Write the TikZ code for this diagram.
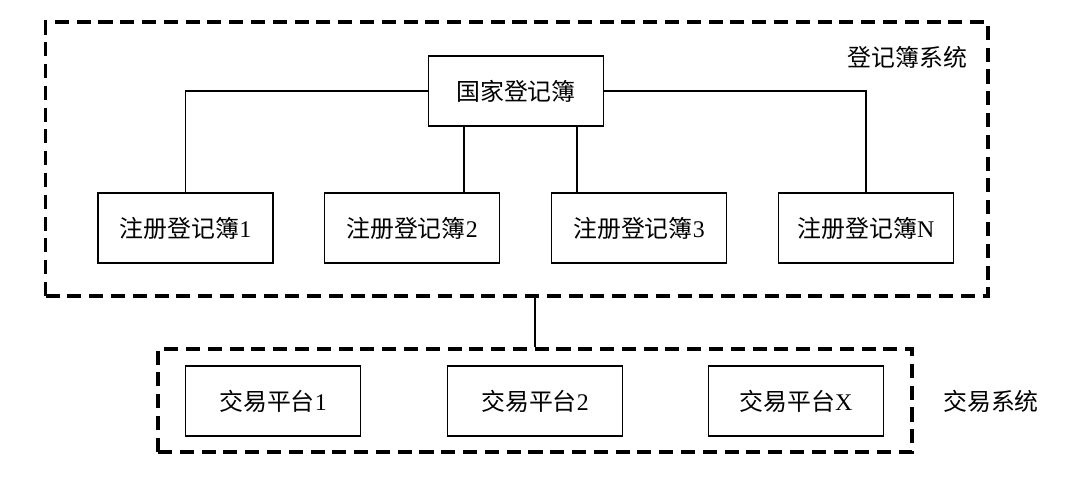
\documentclass[tikz,border=0pt]{standalone}
\usepackage{fontspec}
\setmainfont{Liberation Serif}
\newfontfamily\cjk{Noto Sans CJK SC}

\begin{document}
\begin{tikzpicture}
		[
		x=1cm, y=1cm, font=\fontsize{17}{20}\selectfont,
		%Voreinstellung für Kästen und Rahmen
		kasten/.style={draw, line width=1.2pt, minimum width=4.375cm, minimum height=1.75cm, inner sep=0pt},
		rahmen/.style={draw, line width=2.4pt, dash pattern=on 10pt off 5.5pt, inner sep=0pt}
		]
		
		%Bildgröße
		\useasboundingbox (0,0) rectangle (27,12);
		
		%Rahmen Registersystem
		\node[rahmen, minimum width=23.56cm, minimum height=6.85cm] (regsys) at (12.92,8.025) {};
		\node[anchor=east] (regsyslabel) at (24.3,10.575) {\cjk 登记簿系统};
		
		%Nationales Register
		\node[kasten] (nat) at (12.9,9.725) {\cjk 国家登记簿};
		
		%Register 1 bis N
		\node[kasten] (r1) at (4.64,6.3) {{\cjk 注册登记簿}1};
		\node[kasten] (r2) at (10.3,6.3) {{\cjk 注册登记簿}2};
		\node[kasten] (r3) at (15.975,6.3) {{\cjk 注册登记簿}3};
		\node[kasten] (rn) at (21.65,6.3) {{\cjk 注册登记簿}N};
		
		%Verbindungen
		\draw[line width=1.2pt] (nat.west) -| (r1.north);
		\draw[line width=1.2pt] (nat.east) -| (rn.north);
		\draw[line width=1.2pt] ([xshift=-1.3cm]nat.south) -- ([xshift=-1.3cm]nat.south |- r2.north);
		\draw[line width=1.2pt] ([xshift=1.525cm]nat.south) -- ([xshift=1.525cm]nat.south |- r3.north);
		
		%Rahmen Handelssystem
		\node[rahmen, minimum width=18.85cm, minimum height=2.575cm] (handel) at (13.375,1.9875) {};
		\node (handellabel) at (24.775,1.975) {\cjk 交易系统};
		\draw[line width=1.2pt] (handel.north) -- (handel.north |- regsys.south);
		
		%Handelsplattformen
		\node[kasten] (t1) at (6.825,1.975) {{\cjk 交易平台}1};
		\node[kasten] (t2) at (13.375,1.975) {{\cjk 交易平台}2};
		\node[kasten] (tx) at (19.9,1.975) {{\cjk 交易平台}X};
	\end{tikzpicture}
\end{document}
